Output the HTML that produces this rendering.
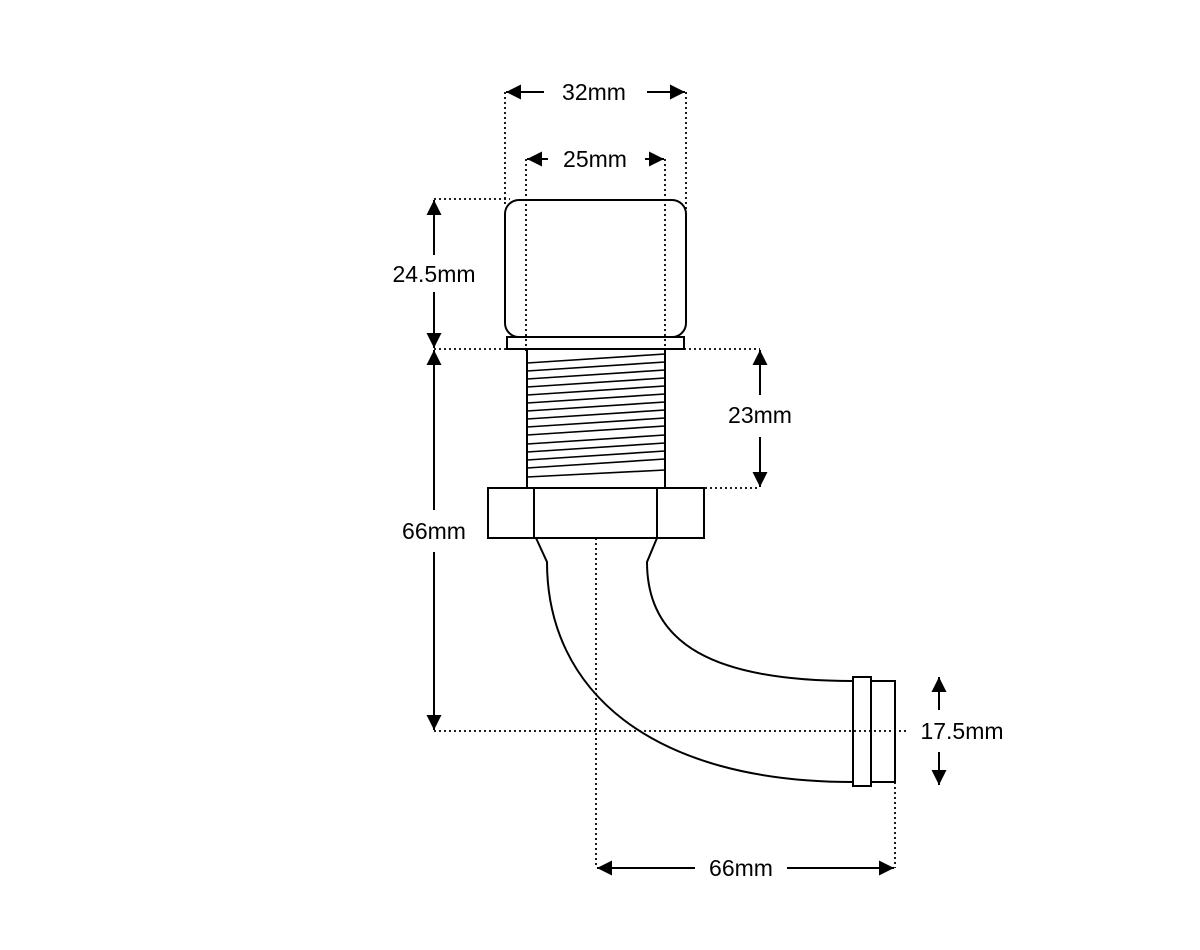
<!DOCTYPE html>
<html><head><style>body{margin:0;background:#fff}svg{display:block}text{font-family:"Liberation Sans",sans-serif;font-size:23px;fill:#000}</style></head><body>
<svg width="1200" height="950" viewBox="0 0 1200 950">
<defs><marker id="a" viewBox="0 0 10 10" refX="10" refY="5" markerWidth="16" markerHeight="15" markerUnits="userSpaceOnUse" orient="auto"><path d="M0,0L10,5L0,10z"/></marker></defs>
<g stroke="#000" stroke-width="2" fill="none">
<rect x="505" y="200" width="181" height="137" rx="14"/>
<rect x="507" y="337" width="177" height="12"/>
<rect x="527" y="349" width="138" height="139"/>
<rect x="488" y="488" width="216" height="50"/>
<line x1="534" y1="488" x2="534" y2="538"/><line x1="657" y1="488" x2="657" y2="538"/>
</g>
<g stroke="#000" stroke-width="1.8" stroke-dasharray="2,3" fill="none">
<line x1="505" y1="92" x2="505" y2="205"/><line x1="686" y1="92" x2="686" y2="212"/>
<line x1="526" y1="159" x2="526" y2="352"/><line x1="665" y1="159" x2="665" y2="352"/>
<line x1="434" y1="199" x2="510" y2="199"/>
<line x1="434" y1="349" x2="760" y2="349"/>
<line x1="665" y1="488" x2="760" y2="488"/>
<line x1="434" y1="731" x2="908" y2="731"/>
<line x1="596" y1="538" x2="596" y2="868"/>
<line x1="895" y1="782" x2="895" y2="868"/>
</g>
<g stroke="#000" stroke-width="2" fill="none">
<line x1="544" y1="92" x2="506" y2="92" marker-end="url(#a)"/><line x1="647" y1="92" x2="685" y2="92" marker-end="url(#a)"/>
<line x1="548" y1="159" x2="527" y2="159" marker-end="url(#a)"/><line x1="645" y1="159" x2="664" y2="159" marker-end="url(#a)"/>
<line x1="434" y1="255" x2="434" y2="200" marker-end="url(#a)"/><line x1="434" y1="292" x2="434" y2="348" marker-end="url(#a)"/>
<line x1="434" y1="510" x2="434" y2="350" marker-end="url(#a)"/><line x1="434" y1="552" x2="434" y2="730" marker-end="url(#a)"/>
<line x1="760" y1="395" x2="760" y2="350" marker-end="url(#a)"/><line x1="760" y1="437" x2="760" y2="487" marker-end="url(#a)"/>
<line x1="939" y1="710" x2="939" y2="677" marker-end="url(#a)"/><line x1="939" y1="752" x2="939" y2="785" marker-end="url(#a)"/>
<line x1="695" y1="868" x2="597" y2="868" marker-end="url(#a)"/><line x1="787" y1="868" x2="894" y2="868" marker-end="url(#a)"/>
</g>
<g stroke="#000" stroke-width="1.6">
<line x1="527" y1="363" x2="665" y2="354"/><line x1="527" y1="371" x2="665" y2="362"/><line x1="527" y1="379" x2="665" y2="370"/><line x1="527" y1="387" x2="665" y2="378"/><line x1="527" y1="395" x2="665" y2="386"/><line x1="527" y1="403" x2="665" y2="394"/><line x1="527" y1="411" x2="665" y2="402"/><line x1="527" y1="419" x2="665" y2="410"/><line x1="527" y1="427" x2="665" y2="418"/><line x1="527" y1="435" x2="665" y2="426"/><line x1="527" y1="444" x2="665" y2="435"/><line x1="527" y1="452" x2="665" y2="443"/><line x1="527" y1="460" x2="665" y2="451"/><line x1="527" y1="468" x2="665" y2="459"/><line x1="527" y1="477" x2="665" y2="470"/>
</g>
<g stroke="#000" stroke-width="2" fill="none">
<path d="M536,538 L547,562 C547,690 650,782 853,782"/>
<path d="M657,538 L647,562 C647,645 715,681 853,681"/>
<rect x="871" y="681" width="24" height="101"/>
<rect x="853" y="677" width="18" height="109"/>
</g>
<text x="594" y="100" text-anchor="middle">32mm</text>
<text x="595" y="167" text-anchor="middle">25mm</text>
<text x="434" y="282" text-anchor="middle">24.5mm</text>
<text x="434" y="539" text-anchor="middle">66mm</text>
<text x="760" y="423" text-anchor="middle">23mm</text>
<text x="962" y="739" text-anchor="middle">17.5mm</text>
<text x="741" y="876" text-anchor="middle">66mm</text>
</svg>
</body></html>
